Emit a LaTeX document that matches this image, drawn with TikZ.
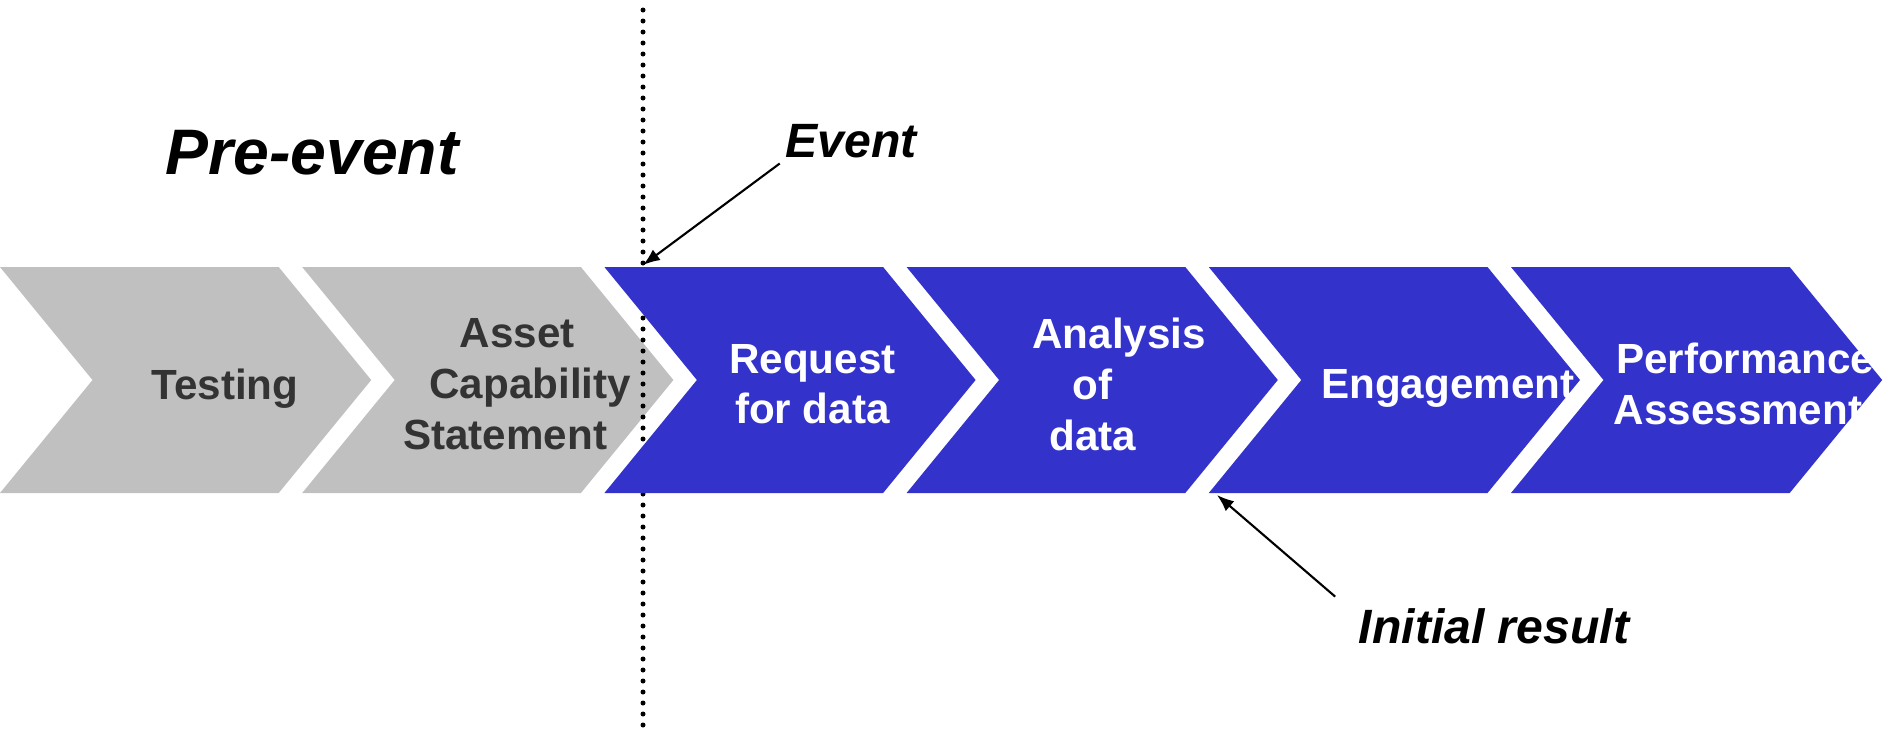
\documentclass[tikz,border=0pt]{standalone}
\usepackage{fontspec}
\setmainfont{Liberation Sans}
\usetikzlibrary{arrows.meta}
\definecolor{stepblue}{HTML}{3333CC}
\definecolor{stepgray}{HTML}{C0C0C0}
\definecolor{graytext}{HTML}{333333}

\begin{document}
\begin{tikzpicture}[
    chevtext/.style={align=center,font=\bfseries\fontsize{12}{14.5}\selectfont,inner sep=0pt,text depth=0pt},
    tag/.style={font=\bfseries\itshape\fontsize{13.7}{16}\selectfont,inner sep=0.5mm},
    pointer/.style={line width=0.6pt,-{Latex[length=1.7mm,width=1.3mm]}},
  ]
    \useasboundingbox (0,0) rectangle (18.84,7.35);
    % pre-event steps
    \foreach \i/\dx/\txt in {0/2.25/Testing, 1/2.15/{Asset\\\hspace*{2.6mm}Capability\\Statement\hspace*{2.4mm}}} {
      \fill[stepgray] (3.022*\i,4.68) -- ++(2.787,0) -- ++(0.925,-1.13) -- ++(-0.925,-1.13) -- ++(-2.787,0) -- ++(0.925,1.13) -- cycle;
      \node[chevtext,text=graytext] (s\i) at (3.022*\i+\dx,3.51) {\txt};
    }
    % event line
    \draw[line width=0.5mm,dash pattern=on 0pt off 1.1mm,line cap=round] (6.43,7.25) -- (6.43,0);
    % steps after the event
    \foreach \i/\dx/\txt in {2/2.08/{Request\\for data}, 3/1.86/{\hspace*{5.3mm}Analysis\\of\\data}, 4/2.39/Engagement, 5/2.34/{Performance\\Assessment\hspace*{1.4mm}}} {
      \fill[stepblue] (3.022*\i,4.68) -- ++(2.787,0) -- ++(0.925,-1.13) -- ++(-0.925,-1.13) -- ++(-2.787,0) -- ++(0.925,1.13) -- cycle;
      \node[chevtext,text=white] (s\i) at (3.022*\i+\dx,3.51) {\txt};
    }
    \node[tag,font=\bfseries\itshape\fontsize{18.3}{20}\selectfont] (pre) at (3.12,5.82) {Pre-event};
    \node[tag] (ev) at (8.51,5.94) {Event};
    \node[tag] (ir) at (14.94,1.09) {Initial result};
    \coordinate (evhit) at (6.43,4.70);
    \coordinate (irhit) at (12.17,2.40);
    \draw[pointer] (ev.south west) -- (evhit);
    \draw[pointer] ([xshift=-1.8mm,yshift=0.6mm]ir.north west) -- (irhit);
\end{tikzpicture}
\end{document}
